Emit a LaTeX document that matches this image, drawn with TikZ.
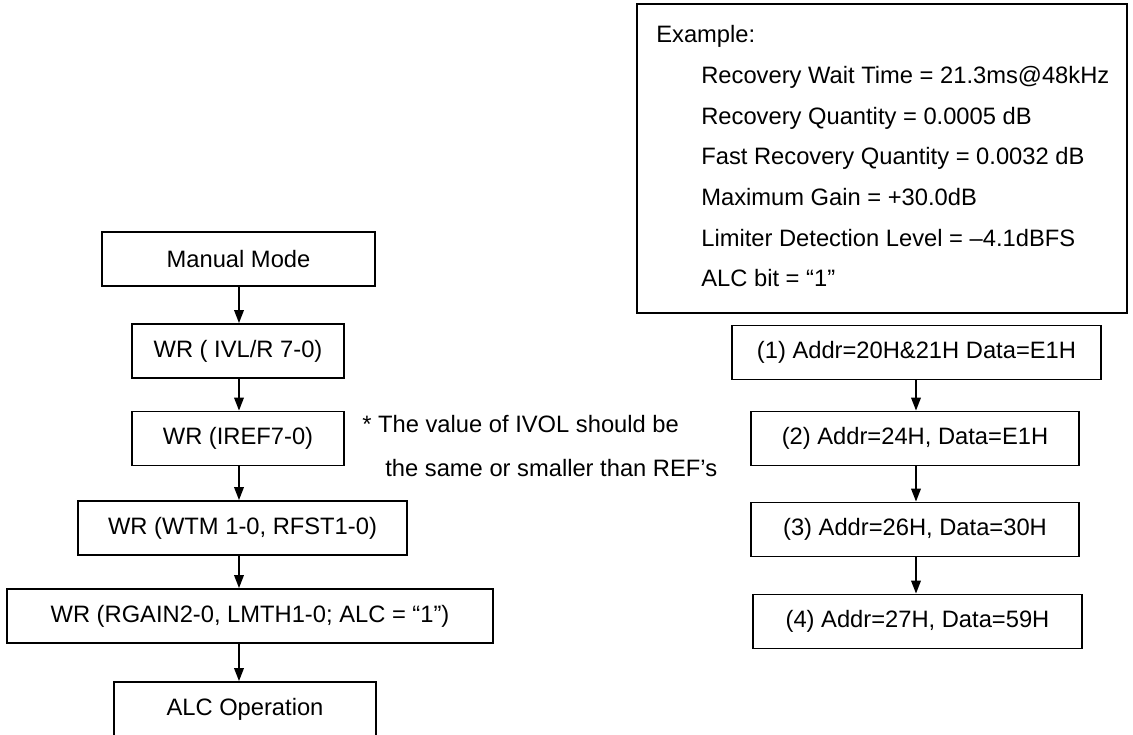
\documentclass[tikz,border=0pt]{standalone}
\usepackage{fontspec}
\setmainfont{Liberation Sans}
\usepackage{tikz}
\usetikzlibrary{
  positioning,
  arrows.meta
}

\begin{document}
\begin{tikzpicture}[
  font=\fontsize{13.5}{16}\selectfont,
  stepbox/.style={
    rectangle,
    draw=black,
    line width=1pt,
    minimum height=1.08cm,
    inner sep=2pt
  },
  exline/.style={
    anchor=base west,
    inner sep=0pt
  },
  flow/.style={
    -{Triangle[length=0.26cm,width=0.19cm]},
    line width=1.1pt
  }
]
\useasboundingbox (0,0) rectangle (22.66,-14.7);

% Left flow: register writes for ALC
\node[stepbox, minimum width=5.46cm] (manual) at (4.77,-5.18) {Manual Mode};
\node[stepbox, minimum width=4.24cm] (ivl) at (4.76,-7.02) {WR ( IVL/R 7-0)};
\node[stepbox, minimum width=4.24cm] (iref) at (4.76,-8.77) {WR (IREF7-0)};
\node[stepbox, minimum width=6.58cm] (wtm) at (4.85,-10.56) {WR (WTM 1-0, RFST1-0)};
\node[stepbox, minimum width=9.72cm] (rgain) at (5.00,-12.32) {WR (RGAIN2-0, LMTH1-0; ALC = “1”)};
\node[stepbox, minimum width=5.24cm] (alcop) at (4.90,-14.18) {ALC Operation};

% Note beside the flow
\node[exline] (note1) at (7.24,-8.66) {* The value of IVOL should be};
\node[exline] (note2) at (7.70,-9.52) {the same or smaller than REF's};

% Example box
\node[stepbox, minimum width=9.8cm, minimum height=6.18cm] (exbox) at (17.64,-3.17) {};
\node[exline] (ex0) at (13.12,-0.86) {Example:};
\node[exline] (ex1) at (14.02,-1.68) {Recovery Wait Time = 21.3ms@48kHz};
\node[exline] (ex2) at (14.02,-2.49) {Recovery Quantity = 0.0005 dB};
\node[exline] (ex3) at (14.02,-3.30) {Fast Recovery Quantity = 0.0032 dB};
\node[exline] (ex4) at (14.02,-4.12) {Maximum Gain = +30.0dB};
\node[exline] (ex5) at (14.02,-4.93) {Limiter Detection Level = –4.1dBFS};
\node[exline] (ex6) at (14.02,-5.74) {ALC bit = “1”};

% Right flow: example register settings
\node[stepbox, minimum width=7.38cm] (addr1) at (18.33,-7.05) {(1) Addr=20H\&21H Data=E1H};
\node[stepbox, minimum width=6.56cm] (addr2) at (18.30,-8.77) {(2) Addr=24H, Data=E1H};
\node[stepbox, minimum width=6.56cm] (addr3) at (18.30,-10.59) {(3) Addr=26H, Data=30H};
\node[stepbox, minimum width=6.58cm] (addr4) at (18.35,-12.43) {(4) Addr=27H, Data=59H};

% Arrow columns
\coordinate (lcol) at (4.78,0);
\coordinate (rcol) at (18.32,0);

\draw[flow] (lcol |- manual.south) -- (lcol |- ivl.north);
\draw[flow] (lcol |- ivl.south) -- (lcol |- iref.north);
\draw[flow] (lcol |- iref.south) -- (lcol |- wtm.north);
\draw[flow] (lcol |- wtm.south) -- (lcol |- rgain.north);
\draw[flow] (lcol |- rgain.south) -- (lcol |- alcop.north);

\draw[flow] (rcol |- addr1.south) -- (rcol |- addr2.north);
\draw[flow] (rcol |- addr2.south) -- (rcol |- addr3.north);
\draw[flow] (rcol |- addr3.south) -- (rcol |- addr4.north);

\end{tikzpicture}
\end{document}
